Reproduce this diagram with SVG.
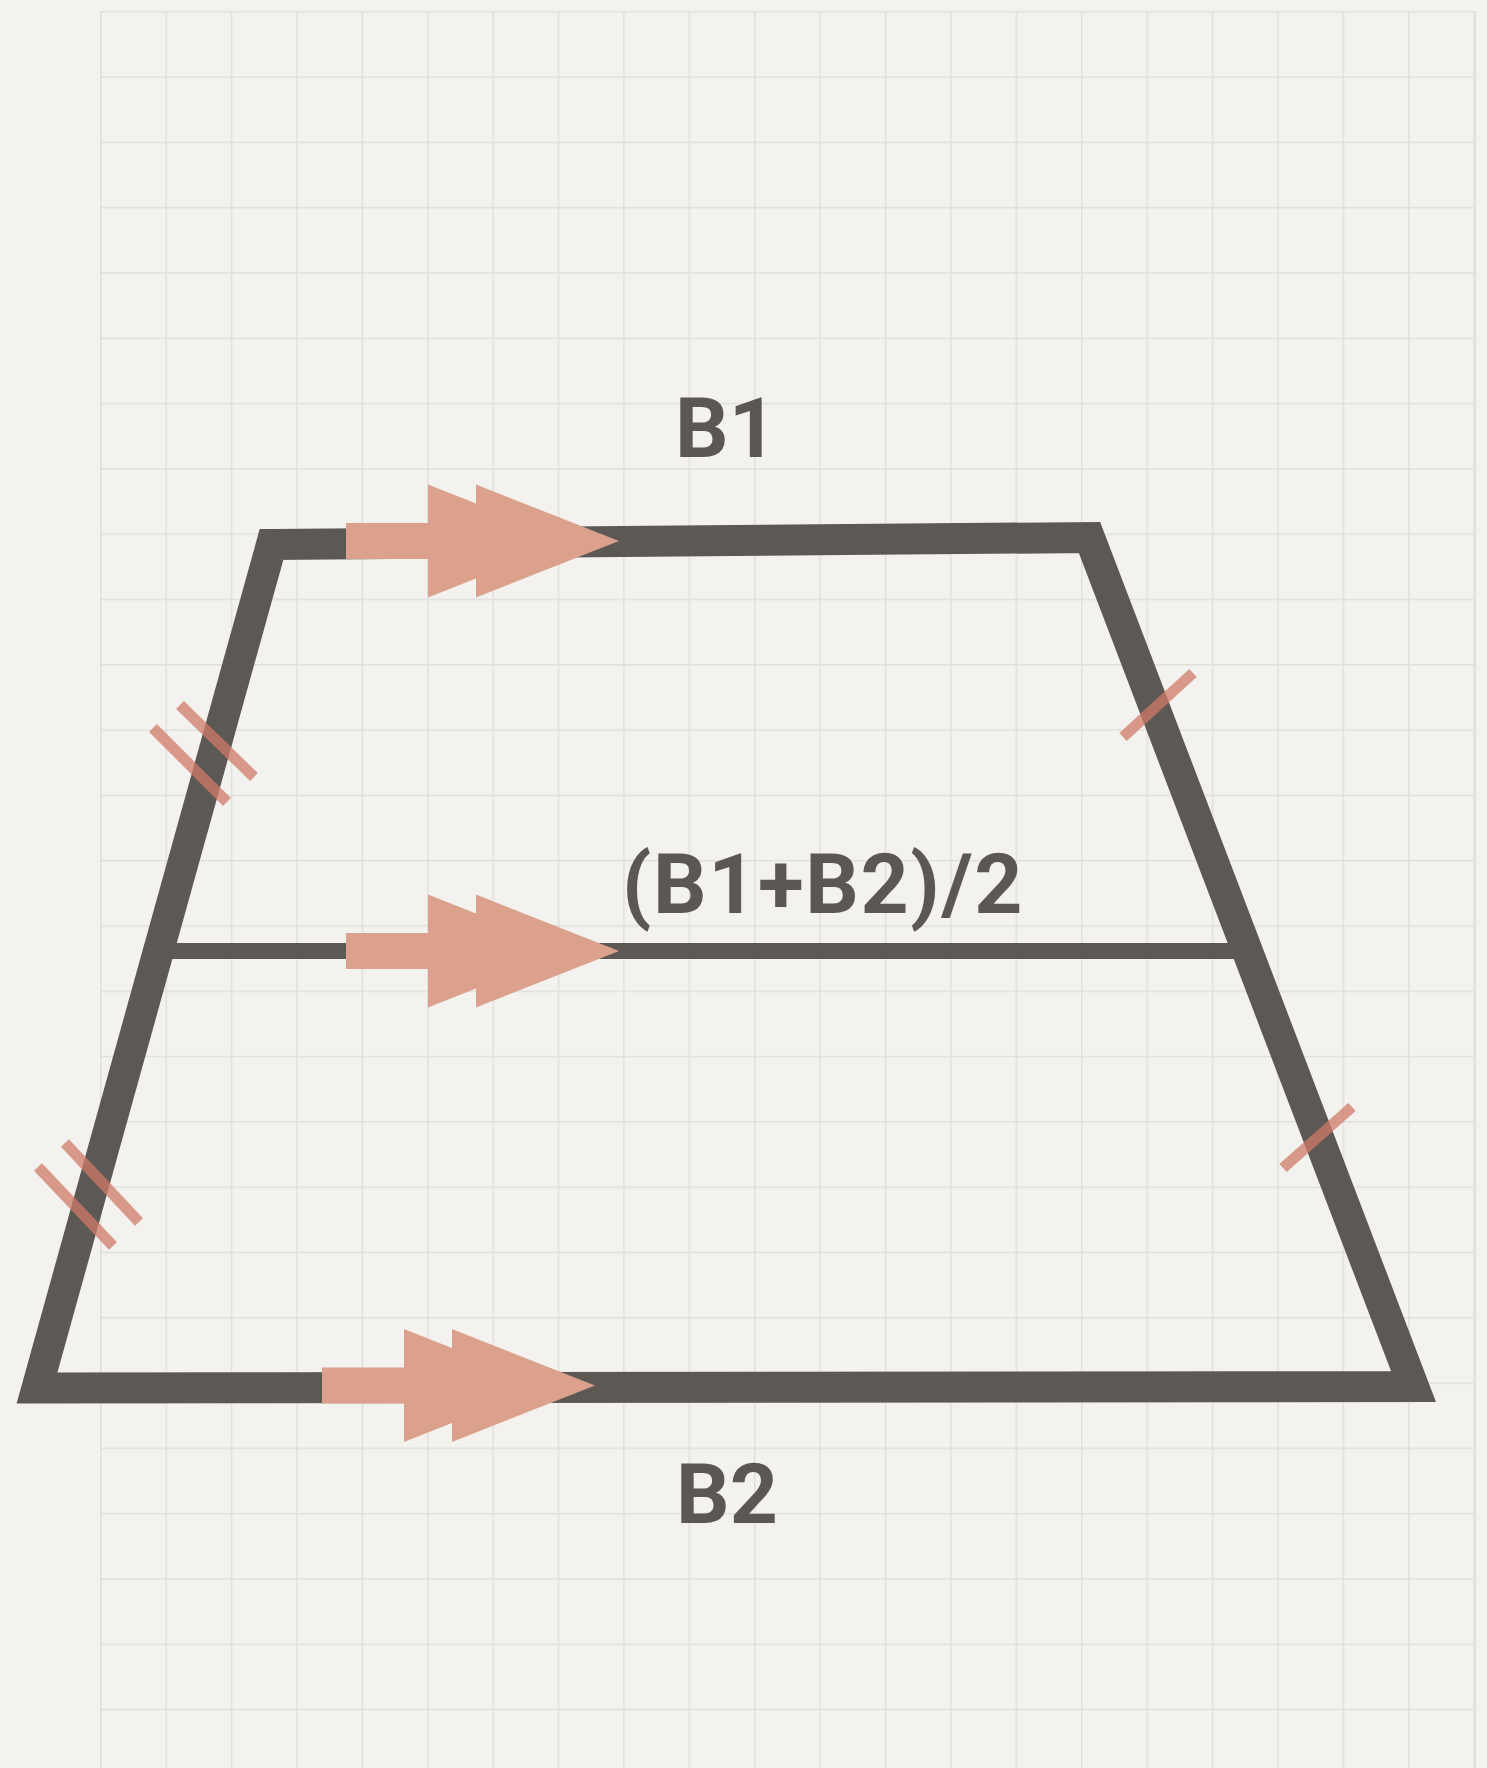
<svg xmlns="http://www.w3.org/2000/svg" width="1487" height="1768" viewBox="0 0 1487 1768">
  <defs>
    <pattern id="grid" x="100" y="11" width="65.4" height="65.3" patternUnits="userSpaceOnUse">
      <path d="M0 0.5 H65.4 M0.5 0 V65.3" fill="none" stroke="#e0dfdb" stroke-width="2"/>
    </pattern>
    <g id="dblArrow">
      <rect x="0" y="-18" width="134" height="36"/>
      <polygon points="82,-56.5 225,0 82,56.5"/>
      <polygon points="130,-56.5 273,0 130,56.5"/>
    </g>
  </defs>
  <style>
    .edge { fill: none; stroke: #5c5853; stroke-linejoin: miter; }
    .arrow { fill: #dba18c; }
    .tick { stroke: #cf7a68; stroke-opacity: 0.75; stroke-width: 11; stroke-linecap: butt; }
    .label { font-family: Roboto, "Liberation Sans", Arial, sans-serif; font-weight: bold; font-size: 84px; fill: #5b5752; }
  </style>

  <rect x="0" y="0" width="1487" height="1768" fill="#f3f2ef"/>
  <rect x="100" y="11" width="1376" height="1757" fill="url(#grid)"/>
  <line x1="1475" y1="11" x2="1475" y2="1768" stroke="#e0dfdb" stroke-width="2"/>

  <g id="connectors">
    <line id="midline" class="edge" x1="171" y1="951" x2="1236" y2="951" stroke-width="16"/>
    <polygon id="trapezoid" class="edge" points="271.5,544.5 1089.5,537.5 1413.5,1386.5 37,1388" stroke-width="31"/>
  </g>

  <g id="arrow-top" class="arrow"><use href="#dblArrow" transform="translate(346,541)"/></g>
  <g id="arrow-mid" class="arrow"><use href="#dblArrow" transform="translate(346,951)"/></g>
  <g id="arrow-bottom" class="arrow"><use href="#dblArrow" transform="translate(322,1385.5)"/></g>

  <g id="ticks-left">
    <line class="tick" x1="180" y1="705" x2="254" y2="777"/>
    <line class="tick" x1="153" y1="728" x2="227" y2="802"/>
    <line class="tick" x1="65" y1="1143" x2="139" y2="1222"/>
    <line class="tick" x1="38" y1="1167" x2="113" y2="1246"/>
  </g>
  <g id="ticks-right">
    <line class="tick" x1="1123" y1="737" x2="1193" y2="673"/>
    <line class="tick" x1="1283" y1="1168" x2="1352" y2="1107"/>
  </g>

  <g id="label-b1"><text class="label" x="726" y="457" text-anchor="middle">B1</text></g>
  <g id="label-mid"><text class="label" x="823" y="913" text-anchor="middle" letter-spacing="1.6">(B1+B2)/2</text></g>
  <g id="label-b2"><text class="label" x="727" y="1523" text-anchor="middle">B2</text></g>
</svg>
